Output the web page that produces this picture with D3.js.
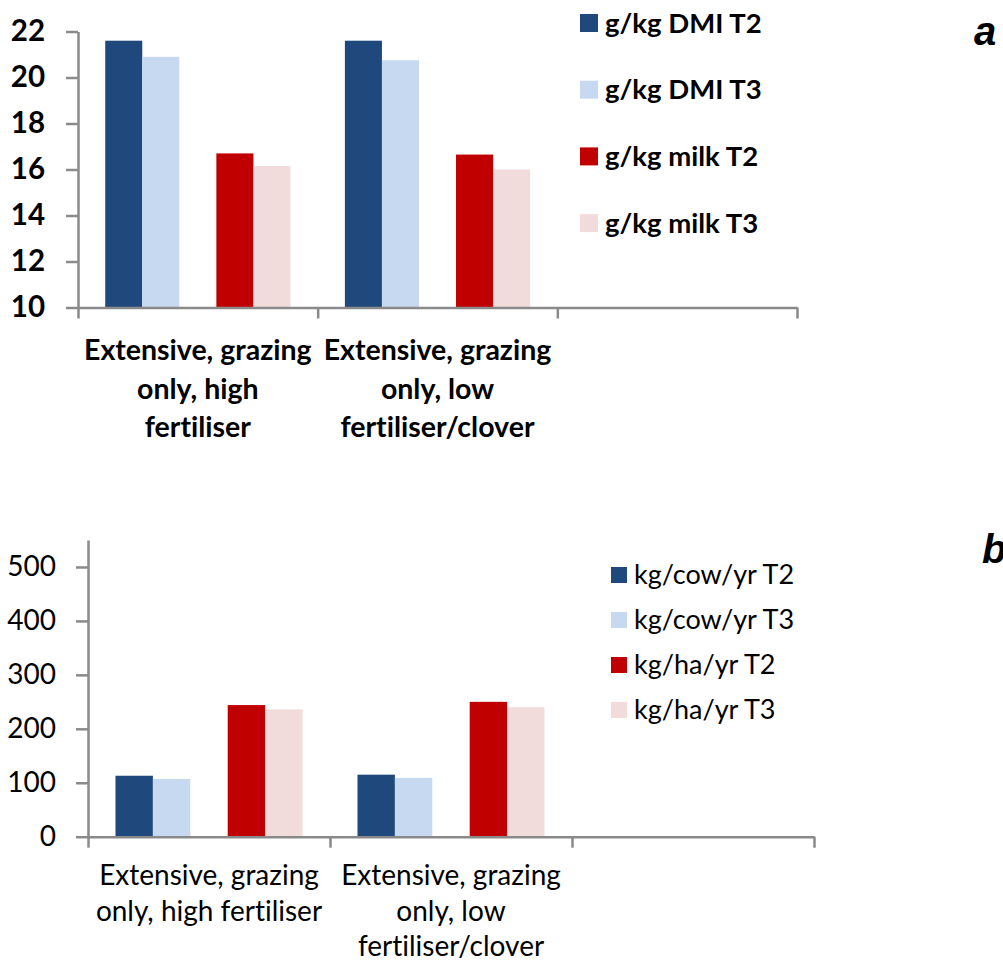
<!DOCTYPE html>
<html>
<head>
<meta charset="utf-8">
<script src="https://cdn.jsdelivr.net/npm/d3@7"></script>
<style>
  body { margin: 0; background: #fff; }
  text { font-family: Lato, "Open Sans", sans-serif; fill: #000; font-variant-ligatures: none; }
</style>
</head>
<body>
<svg id="chart" width="1003" height="960"></svg>
<script>
// categories (third slot on the axis is empty, as in the original)
const categories = ["high", "low", "empty"];
const labelsA = [["Extensive, grazing", "only, high", "fertiliser"],
                 ["Extensive, grazing", "only, low", "fertiliser/clover"]];
const labelsB = [["Extensive, grazing", "only, high fertiliser"],
                 ["Extensive, grazing", "only, low", "fertiliser/clover"]];

// panel a values
const seriesA = ["g/kg DMI T2", "g/kg DMI T3", "g/kg milk T2", "g/kg milk T3"];
const dmiT2 = [21.6, 21.6];
const dmiT3 = [20.9, 20.75];
const milkT2 = [16.7, 16.65];
const milkT3 = [16.15, 16.0];
const ticksA = [10, 12, 14, 16, 18, 20, 22];

// panel b values
const seriesB = ["kg/cow/yr T2", "kg/cow/yr T3", "kg/ha/yr T2", "kg/ha/yr T3"];
const cowT2 = [113, 115];
const cowT3 = [107, 109];
const haT2 = [244, 250];
const haT3 = [236, 240];
const ticksB = [0, 100, 200, 300, 400, 500];

const colors = ["#1F497D", "#C6D9F1", "#C00000", "#F2DCDB"];
const axisColor = "#8a8a8a";

const svg = d3.select("#chart");

function drawPanel(p) {
  const g = svg.append("g");

  const x = d3.scaleBand().domain(categories).range([p.x0, p.x1]);
  // 5 slots per category, the middle one left blank between the pairs
  const slots = ["s0", "s1", "gap", "s2", "s3"];
  const xs = d3.scaleBand().domain(slots).range([0, x.bandwidth()]).paddingOuter(0.735);
  const y = d3.scaleLinear().domain(p.domain).range([p.yBottom, p.yTop]);

  const rows = [];
  p.values.forEach((vals, si) => {
    vals.forEach((v, ci) => rows.push({ cat: categories[ci], slot: ["s0", "s1", "s2", "s3"][si], v: v, si: si }));
  });

  g.selectAll("rect.bar")
    .data(rows)
    .enter()
    .append("rect")
    .attr("class", "bar")
    .attr("x", d => x(d.cat) + xs(d.slot))
    .attr("width", xs.bandwidth())
    .attr("y", d => y(d.v))
    .attr("height", d => y(p.domain[0]) - y(d.v))
    .attr("fill", d => colors[d.si]);

  // y axis
  const yAxis = d3.axisLeft(y)
    .tickValues(p.ticks)
    .tickSize(12)
    .tickSizeOuter(0)
    .tickPadding(p.tickPad);
  const yG = g.append("g").attr("transform", `translate(${p.x0},0)`).call(yAxis);
  yG.selectAll("text")
    .style("font-size", p.tickFont + "px")
    .style("font-weight", p.bold ? 700 : 400)
    .attr("fill", "#000");

  // x axis with ticks between categories
  const xb = d3.scaleLinear().domain([0, categories.length]).range([p.x0, p.x1]);
  const xAxis = d3.axisBottom(xb)
    .tickValues(d3.range(categories.length + 1))
    .tickFormat("")
    .tickSize(11)
    .tickSizeOuter(0);
  g.append("g").attr("transform", `translate(0,${p.yBottom})`).call(xAxis);

  g.selectAll(".domain, .tick line")
    .attr("stroke", axisColor)
    .attr("stroke-width", 2.5);

  // category labels
  p.labels.forEach((lines, ci) => {
    const t = g.append("text")
      .attr("text-anchor", "middle")
      .style("font-size", p.catFont + "px")
      .style("font-weight", p.bold ? 700 : 400);
    lines.forEach((ln, li) => {
      t.append("tspan")
        .attr("x", x(categories[ci]) + x.bandwidth() / 2)
        .attr("y", p.labelY + li * p.labelStep)
        .text(ln);
    });
  });

  // legend
  p.series.forEach((s, i) => {
    const cy = p.legY + i * p.legStep;
    g.append("rect")
      .attr("x", p.legX)
      .attr("y", cy - p.legSq / 2)
      .attr("width", p.legSq)
      .attr("height", p.legSq)
      .attr("fill", colors[i]);
    g.append("text")
      .attr("x", p.legX + p.legSq + 7)
      .attr("y", cy)
      .attr("dy", "0.35em")
      .style("font-size", p.legFont + "px")
      .style("font-weight", p.bold ? 700 : 400)
      .text(s);
  });

  g.append("text")
    .attr("x", p.tagX)
    .attr("y", p.tagY)
    .style("font-family", "'Liberation Sans', Arial, sans-serif")
    .style("font-size", "40px")
    .style("font-weight", 700)
    .style("font-style", "italic")
    .text(p.tag);
}

drawPanel({
  x0: 78, x1: 797, yTop: 31.5, yBottom: 307.5,
  domain: [10, 22], ticks: ticksA,
  values: [dmiT2, dmiT3, milkT2, milkT3],
  series: seriesA, labels: labelsA, bold: true,
  tickFont: 29.5, tickPad: 21,
  catFont: 28.5, labelY: 360, labelStep: 38.5,
  legX: 580, legY: 23, legStep: 66.7, legSq: 18, legFont: 27.5,
  tag: "a", tagX: 974, tagY: 45
});

drawPanel({
  x0: 88, x1: 814, yTop: 540, yBottom: 836.7,
  domain: [0, 550], ticks: ticksB,
  values: [cowT2, cowT3, haT2, haT3],
  series: seriesB, labels: labelsB, bold: false,
  tickFont: 28, tickPad: 20,
  catFont: 28, labelY: 885, labelStep: 35.5,
  legX: 611, legY: 575, legStep: 45, legSq: 16, legFont: 27,
  tag: "b", tagX: 982, tagY: 563
});
</script>
</body>
</html>
